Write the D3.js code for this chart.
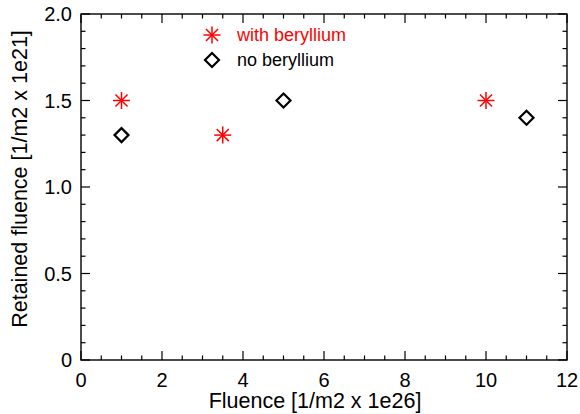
<!DOCTYPE html>
<html>
<head>
<meta charset="utf-8">
<script src="https://cdn.jsdelivr.net/npm/d3@7"></script>
<style>
  body { margin: 0; background: #fff; }
  svg { display: block; font-family: "Liberation Sans", Arial, sans-serif; }
</style>
</head>
<body>
<svg id="chart" width="580" height="414"></svg>
<script>
// Retained fluence vs. fluence, with and without beryllium
const withBeX = [1, 3.5, 10];
const withBeY = [1.5, 1.3, 1.5];
const noBeX = [1, 5, 11];
const noBeY = [1.3, 1.5, 1.4];
const xTicks = [0, 2, 4, 6, 8, 10, 12];
const yTicks = [0, 0.5, 1.0, 1.5, 2.0];
const yTickLabels = ["0", "0.5", "1.0", "1.5", "2.0"];
const legendLabels = ["with beryllium", "no beryllium"];

const svg = d3.select("#chart");
const m = { left: 81, right: 567, top: 14, bottom: 360 };
const x = d3.scaleLinear().domain([0, 12]).range([m.left, m.right]);
const y = d3.scaleLinear().domain([0, 2]).range([m.bottom, m.top]);

const g = svg.append("g");

// Frame
g.append("rect")
  .attr("x", m.left).attr("y", m.top)
  .attr("width", m.right - m.left).attr("height", m.bottom - m.top)
  .attr("fill", "none").attr("stroke", "#000").attr("stroke-width", 1.4);

// Ticks on all four sides, pointing inward
const xMinor = d3.range(0, 12.001, 0.5);
const yMinor = d3.range(0, 2.0001, 0.1);
xMinor.forEach(v => {
  const major = Math.abs(v / 2 - Math.round(v / 2)) < 1e-6;
  const len = major ? 9 : 4.5;
  g.append("line").attr("x1", x(v)).attr("x2", x(v)).attr("y1", m.bottom).attr("y2", m.bottom - len)
    .attr("stroke", "#000").attr("stroke-width", 1.2);
  g.append("line").attr("x1", x(v)).attr("x2", x(v)).attr("y1", m.top).attr("y2", m.top + len)
    .attr("stroke", "#000").attr("stroke-width", 1.2);
});
yMinor.forEach(v => {
  const major = Math.abs(v / 0.5 - Math.round(v / 0.5)) < 1e-6;
  const len = major ? 9 : 4.5;
  g.append("line").attr("y1", y(v)).attr("y2", y(v)).attr("x1", m.left).attr("x2", m.left + len)
    .attr("stroke", "#000").attr("stroke-width", 1.2);
  g.append("line").attr("y1", y(v)).attr("y2", y(v)).attr("x1", m.right).attr("x2", m.right - len)
    .attr("stroke", "#000").attr("stroke-width", 1.2);
});

// Tick labels
g.selectAll(".xl").data(xTicks).enter().append("text")
  .attr("x", d => x(d)).attr("y", m.bottom + 27)
  .attr("text-anchor", "middle").attr("font-size", 20).text(d => d);
g.selectAll(".yl").data(yTicks).enter().append("text")
  .attr("x", m.left - 9).attr("y", d => y(d) + 7)
  .attr("text-anchor", "end").attr("font-size", 20).text((d, i) => yTickLabels[i]);

// Axis titles
svg.append("text").attr("x", 315).attr("y", 408)
  .attr("text-anchor", "middle").attr("font-size", 21.5).text("Fluence [1/m2 x 1e26]");
svg.append("text").attr("transform", `translate(27,179) rotate(-90)`)
  .attr("text-anchor", "middle").attr("font-size", 21.5).text("Retained fluence [1/m2 x 1e21]");

// Marker shapes
function star(sel, cx, cy, r) {
  const a = sel.append("g").attr("transform", `translate(${cx},${cy})`)
    .attr("stroke", "#ff0000").attr("stroke-width", 1.5);
  [0, 45, 90, 135].forEach(ang => {
    const t = ang * Math.PI / 180;
    a.append("line").attr("x1", -r * Math.cos(t)).attr("y1", -r * Math.sin(t))
      .attr("x2", r * Math.cos(t)).attr("y2", r * Math.sin(t));
  });
}
function diamond(sel, cx, cy, r) {
  sel.append("path")
    .attr("d", `M${cx},${cy - r}L${cx + r},${cy}L${cx},${cy + r}L${cx - r},${cy}Z`)
    .attr("fill", "none").attr("stroke", "#000").attr("stroke-width", 2.2);
}

withBeX.forEach((v, i) => star(g, x(v), y(withBeY[i]), 8.5));
noBeX.forEach((v, i) => diamond(g, x(v), y(noBeY[i]), 7));

// Legend
star(svg, 212, 35, 8.5);
svg.append("text").attr("x", 237).attr("y", 41).attr("font-size", 18)
  .attr("fill", "#ff0000").text(legendLabels[0]);
diamond(svg, 212, 60, 7);
svg.append("text").attr("x", 237).attr("y", 66).attr("font-size", 18)
  .attr("fill", "#000").text(legendLabels[1]);
</script>
</body>
</html>
